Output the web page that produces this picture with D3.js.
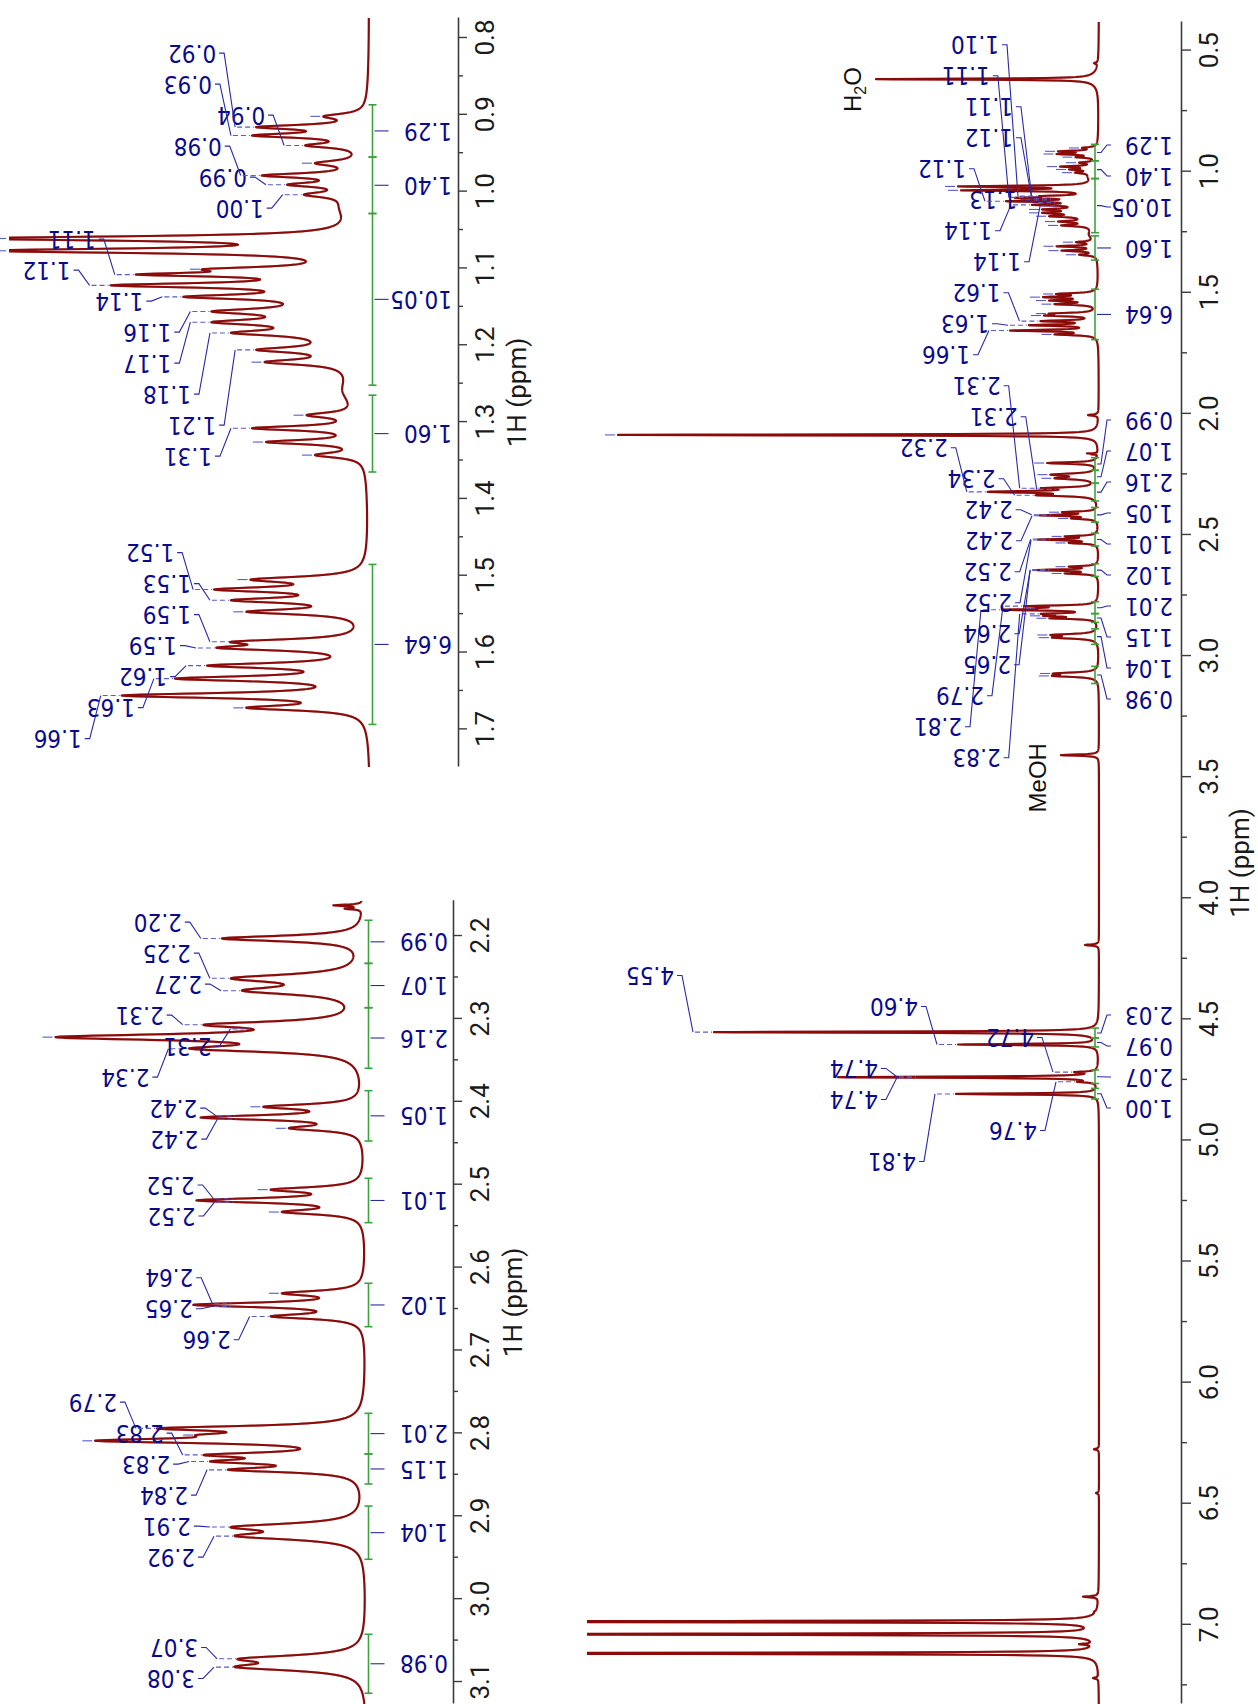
<!DOCTYPE html>
<html>
<head>
<meta charset="utf-8">
<title>1H NMR</title>
<script src="https://cdn.jsdelivr.net/npm/d3@7/dist/d3.min.js"></script>
<style>
  html, body { margin: 0; padding: 0; background: #ffffff; }
  svg { display: block; }
</style>
</head>
<body>
<svg id="nmr" width="1258" height="1704"></svg>
<script>
// ---------- resonances: [shift (ppm), peak height, line width FWHM (ppm)] ----------
const waterLines = [
  [0.552, 5, 0.006], [0.618, 223, 0.005]
];
const methylLines = [
  [0.902, 17, 0.008], [0.916, 41, 0.007], [0.927, 42.5, 0.007], [0.940, 23.5, 0.007],
  [0.963, 20, 0.008], [0.979, 39, 0.007], [0.991, 30, 0.007], [1.004, 24, 0.008],
  [1.061, 141, 0.007], [1.077, 138, 0.007], [1.101, 60, 0.007], [1.108, 84, 0.006],
  [1.122, 93, 0.007], [1.137, 67, 0.007], [1.156, 57, 0.008], [1.170, 57, 0.008],
  [1.184, 50, 0.008], [1.206, 41, 0.008], [1.222, 38, 0.008],
  [1.291, 23, 0.008], [1.308, 42.5, 0.007], [1.326, 37.5, 0.007], [1.343, 20, 0.008]
];
const methyleneLines = [
  [1.505, 43, 0.009], [1.518, 56, 0.008], [1.532, 50, 0.008], [1.547, 44.5, 0.008],
  [1.586, 50, 0.008], [1.594, 55, 0.008], [1.617, 58.5, 0.008], [1.634, 70, 0.008],
  [1.656, 89, 0.008], [1.672, 44.5, 0.008]
];
const singletLines = [
  [2.005, 11, 0.006], [2.087, 481, 0.005], [2.163, 12, 0.002], [2.167, 8, 0.002],
  [3.409, 38, 0.006], [4.193, 14, 0.006]
];
const allylicLines = [
  [2.203, 51.8, 0.008], [2.251, 48.6, 0.011], [2.266, 44.6, 0.011],
  [2.307, 58.3, 0.009], [2.322, 111.2, 0.009], [2.336, 63.4, 0.009],
  [2.406, 37, 0.007], [2.419, 59.4, 0.007], [2.432, 27.9, 0.007],
  [2.506, 34.4, 0.007], [2.519, 60.9, 0.007], [2.533, 30.4, 0.007],
  [2.631, 30.4, 0.007], [2.645, 62, 0.007], [2.659, 34.4, 0.007],
  [2.794, 75, 0.007], [2.802, 61, 0.007], [2.809, 97, 0.007],
  [2.826, 58.3, 0.007], [2.834, 56, 0.007], [2.844, 49.6, 0.007],
  [2.913, 48.6, 0.010], [2.924, 47.1, 0.010],
  [3.072, 46, 0.010], [3.082, 47.1, 0.010]
];
const oxyLines = [
  [4.553, 385, 0.006], [4.604, 141, 0.006], [4.718, 25, 0.006],
  [4.739, 261, 0.006], [4.758, 22, 0.006], [4.808, 143, 0.006]
];
const aromaticLines = [
  [6.275, 5, 0.006], [6.456, 3, 0.006], [6.884, 16, 0.006], [6.946, 5, 0.006],
  [6.987, 800, 0.005], [7.039, 800, 0.005], [7.080, 20, 0.006], [7.118, 800, 0.005],
  [7.220, 6, 0.006]
];
// broad underlying envelopes: [centre ppm, amplitude, FWHM ppm]
const broadBands = [
  [0.618, 8, 0.05], [1.020, 6, 0.04], [1.160, 18, 0.10], [1.260, 5, 0.04]
];

// ---------- peak picks (labelled shifts) ----------
const mainPicks = [1.101, 1.106, 1.112, 1.117, 1.122, 1.128, 1.137, 1.142, 1.617, 1.634, 1.656,
  2.307, 2.312, 2.322, 2.336, 2.417, 2.421, 2.517, 2.521, 2.643, 2.647, 2.794, 2.809, 2.826,
  4.553, 4.604, 4.718, 4.737, 4.741, 4.758, 4.808];
const zoomAPicks = [0.916, 0.927, 0.940, 0.979, 0.991, 1.004, 1.108, 1.122, 1.137, 1.156, 1.170,
  1.184, 1.206, 1.308, 1.518, 1.532, 1.586, 1.594, 1.617, 1.634, 1.656];
const zoomBPicks = [2.203, 2.251, 2.266, 2.307, 2.312, 2.336, 2.417, 2.421, 2.517, 2.521, 2.643,
  2.647, 2.659, 2.794, 2.826, 2.834, 2.844, 2.913, 2.924, 3.072, 3.082];

// ---------- integrals: [from ppm, to ppm, value] ----------
const integralsLow = [
  [0.887, 0.955, 1.29], [0.955, 1.0285, 1.40], [1.0285, 1.252, 10.05],
  [1.265, 1.365, 1.60], [1.4853, 1.6936, 6.64]
];
const integralsMid = [
  [2.181, 2.233, 0.99], [2.233, 2.2865, 1.07], [2.2865, 2.3596, 2.16],
  [2.3866, 2.4473, 1.05], [2.4923, 2.5458, 1.01], [2.6189, 2.6713, 1.02],
  [2.7758, 2.8248, 2.01], [2.8248, 2.8611, 1.15], [2.8877, 2.9519, 1.04],
  [3.0424, 3.1135, 0.98]
];
const integralsHigh = [
  [4.536, 4.577, 2.03], [4.577, 4.614, 0.97], [4.709, 4.765, 2.07], [4.785, 4.829, 1.00]
];

// ---------- solvent annotations ----------
const solventTags = [["H2O", 0.618], ["MeOH", 3.409]];

// ---------- axis ticks ----------
const mainTicks = [0.5, 1.0, 1.5, 2.0, 2.5, 3.0, 3.5, 4.0, 4.5, 5.0, 5.5, 6.0, 6.5, 7.0];
const mainMinor = [0.75, 1.25, 1.75, 2.25, 2.75, 3.25, 3.75, 4.25, 4.75, 5.25, 5.75, 6.25, 6.75, 7.25];
const zoomATicks = [0.8, 0.9, 1.0, 1.1, 1.2, 1.3, 1.4, 1.5, 1.6, 1.7];
const zoomAMinor = [0.85, 0.95, 1.05, 1.15, 1.25, 1.35, 1.45, 1.55, 1.65];
const zoomBTicks = [2.2, 2.3, 2.4, 2.5, 2.6, 2.7, 2.8, 2.9, 3.0, 3.1];
const zoomBMinor = [2.25, 2.35, 2.45, 2.55, 2.65, 2.75, 2.85, 2.95, 3.05];

// ---------- line-shape model ----------
const lines = [].concat(waterLines, methylLines, methyleneLines, singletLines,
  allylicLines, oxyLines, aromaticLines);
const lor = (x, c, w) => { const d = 2 * (x - c) / w; return 1 / (1 + d * d); };
const bandAt = x => broadBands.reduce((s, b) => s + b[1] * lor(x, b[0], b[2]), 0);
// amplitudes chosen so each line top reaches its listed height despite overlap
const amp = lines.map(l => l[1]);
for (let it = 0; it < 160; it++) {
  lines.forEach((l, i) => {
    let rest = bandAt(l[0]);
    lines.forEach((m, j) => {
      if (j !== i && Math.abs(m[0] - l[0]) < 0.6) rest += amp[j] * lor(l[0], m[0], m[2]);
    });
    amp[i] = Math.max(0, l[1] - rest);
  });
}
const intensity = x => {
  let s = bandAt(x);
  for (let i = 0; i < lines.length; i++) s += amp[i] * lor(x, lines[i][0], lines[i][2]);
  return s;
};

// ---------- layout helpers ----------
function spread(targets, gap, lo, hi) {
  let blocks = targets.map(t => ({ n: 1, sum: t }));
  const first = b => b.sum / b.n - (b.n - 1) * gap / 2;
  const last = b => b.sum / b.n + (b.n - 1) * gap / 2;
  let merged = true;
  while (merged) {
    merged = false;
    for (let k = 0; k + 1 < blocks.length; k++) {
      if (first(blocks[k + 1]) - last(blocks[k]) < gap) {
        blocks[k] = { n: blocks[k].n + blocks[k + 1].n, sum: blocks[k].sum + blocks[k + 1].sum };
        blocks.splice(k + 1, 1);
        merged = true;
        break;
      }
    }
  }
  const out = [];
  blocks.forEach(b => {
    let f = first(b);
    const l = last(b);
    if (f < lo) f = lo;
    if (l > hi) f -= (l - hi);
    for (let i = 0; i < b.n; i++) out.push(f + i * gap);
  });
  return out;
}

const SPEC = "#8b0a0a", NAVY = "#0a0a8c", LEAD = "#2a2aa8", DASH = "#5a5ac8", GREEN = "#3da23d", AXIS = "#3c3c3c";
const AXIS_FONT = '"Liberation Sans Narrow", "Roboto", "Open Sans", sans-serif';
const LABEL_FONT = '"DejaVu Sans Condensed", "DejaVu Sans", sans-serif';

const panels = [
  { ppm: [7.327, 0.382], u: [0, 1682], base: 1099, top: 587, gain: 1,
    axisV: 1181, tick: 10, minorLen: 6, titleV: 1249,
    major: mainTicks, minor: mainMinor, picks: mainPicks,
    integrals: integralsLow.concat(integralsMid, integralsHigh),
    intV: 1095, intLabelV: 1173, solvents: true, markRange: [0.88, 3.1] },
  { ppm: [1.749, 0.774], u: [937, 1686], base: 371, top: 9, gain: 2.8,
    axisV: 458, tick: 9, minorLen: 5, titleV: 526,
    major: zoomATicks, minor: zoomAMinor, picks: zoomAPicks,
    integrals: integralsLow, intV: 372.5, intLabelV: 452, solvents: false, markRange: [0.88, 1.75] },
  { ppm: [3.1265, 2.1574], u: [0, 803.3], base: 367, top: 9, gain: 2.8,
    axisV: 453, tick: 9, minorLen: 5, titleV: 522,
    major: zoomBTicks, minor: zoomBMinor, picks: zoomBPicks,
    integrals: integralsMid, intV: 368.5, intLabelV: 448, solvents: false, markRange: [2.18, 3.12] }
];

const svg = d3.select("#nmr");
const defs = svg.append("defs");
// the spectra are laid out as ordinary NMR plots and then turned a quarter turn
const root = svg.append("g").attr("transform", "translate(0,1704) rotate(-90)");

panels.forEach((p, idx) => {
  const x = d3.scaleLinear().domain(p.ppm).range(p.u);
  const y = d3.scaleLinear().domain([0, 1]).range([p.base, p.base - p.gain]);
  const uLo = Math.min(...p.u), uHi = Math.max(...p.u);
  const pLo = Math.min(...p.ppm), pHi = Math.max(...p.ppm);
  const g = root.append("g");

  defs.append("clipPath").attr("id", "clip" + idx)
    .append("rect").attr("x", uLo).attr("y", p.top)
    .attr("width", uHi - uLo).attr("height", p.base + 20 - p.top);

  // axis
  const ax = g.append("g").attr("transform", `translate(0,${p.axisV})`)
    .call(d3.axisBottom(x).tickValues(p.major).tickFormat(d3.format(".1f"))
      .tickSize(p.tick).tickSizeOuter(0).tickPadding(9));
  g.append("g").attr("transform", `translate(0,${p.axisV})`)
    .call(d3.axisBottom(x).tickValues(p.minor).tickFormat("").tickSize(p.minorLen).tickSizeOuter(0))
    .select(".domain").remove();
  g.selectAll(".domain").attr("stroke", AXIS).attr("stroke-width", 1.6);
  g.selectAll(".tick line").attr("stroke", AXIS).attr("stroke-width", 1.4);
  ax.selectAll(".tick text").attr("font-family", AXIS_FONT).attr("font-size", 26).attr("fill", "#1a1a1a");
  g.append("text").attr("x", (uLo + uHi) / 2).attr("y", p.titleV)
    .attr("text-anchor", "middle").attr("font-family", AXIS_FONT).attr("font-size", 26)
    .attr("fill", "#1a1a1a").text("1H (ppm)");

  // spectrum trace
  const n = Math.ceil((uHi - uLo) * 3);
  const xs = d3.range(n + 1).map(i => pLo + (pHi - pLo) * i / n);
  lines.forEach(l => { if (l[0] > pLo && l[0] < pHi) xs.push(l[0]); });
  xs.sort((a, b) => a - b);
  const pts = xs.map(v => [v, intensity(v)]);
  g.append("path").attr("clip-path", `url(#clip${idx})`)
    .attr("d", d3.line().x(d => x(d[0])).y(d => y(d[1]))(pts))
    .attr("fill", "none").attr("stroke", SPEC).attr("stroke-width", 2.2)
    .attr("stroke-linejoin", "round");

  // integrals
  const ints = p.integrals.map(r => ({ a: r[0], b: r[1], val: r[2], um: x((r[0] + r[1]) / 2) }))
    .sort((s, t) => s.um - t.um);
  const iPos = spread(ints.map(d => d.um), 31, uLo + 12, uHi - 12);
  ints.forEach((d, i) => {
    const ua = x(d.a), ub = x(d.b), gv = p.intV;
    g.append("line").attr("x1", ua).attr("x2", ub).attr("y1", gv).attr("y2", gv)
      .attr("stroke", GREEN).attr("stroke-width", 1.6);
    [ua, ub].forEach(uc => g.append("line").attr("x1", uc).attr("x2", uc)
      .attr("y1", gv - 4).attr("y2", gv + 4).attr("stroke", GREEN).attr("stroke-width", 1.6));
    const lu = iPos[i];
    g.append("path").attr("d", `M${d.um},${gv + 2}L${d.um},${gv + 6}L${lu},${gv + 12}L${lu},${gv + 16}`)
      .attr("fill", "none").attr("stroke", LEAD).attr("stroke-width", 1.1);
    g.append("text").attr("transform", `translate(${lu},${p.intLabelV}) rotate(-90)`)
      .attr("dy", "0.35em").attr("text-anchor", "start")
      .attr("font-family", LABEL_FONT).attr("font-stretch", "condensed").attr("font-size", 24)
      .attr("fill", NAVY).text(d.val.toFixed(2));
  });

  // unlabelled pick marks
  lines.forEach(l => {
    if (l[0] < p.markRange[0] || l[0] > p.markRange[1] || l[0] < pLo || l[0] > pHi) return;
    if (l[1] < 15) return;
    if (p.picks.some(q => Math.abs(q - l[0]) < 0.0035)) return;
    const tv = Math.max(p.top, y(intensity(l[0])));
    const uu = x(l[0]);
    g.append("line").attr("x1", uu).attr("x2", uu).attr("y1", tv - 13).attr("y2", tv - 3)
      .attr("stroke", DASH).attr("stroke-width", 1.1);
  });

  // peak labels
  const items = p.picks.map(q => ({ ppm: q, u: x(q), tip: Math.max(p.top, y(intensity(q))) }))
    .sort((s, t) => s.u - t.u);
  const lPos = spread(items.map(d => d.u), 31, uLo + 12, uHi - 12);
  items.forEach((d, i) => {
    const lu = lPos[i], vs = d.tip - 40;
    g.append("path").attr("d", `M${lu},${vs + 3}L${lu},${vs + 8}L${d.u},${vs + 19}`)
      .attr("fill", "none").attr("stroke", LEAD).attr("stroke-width", 1.1);
    g.append("line").attr("x1", d.u).attr("x2", d.u).attr("y1", vs + 21).attr("y2", d.tip - 2)
      .attr("stroke", DASH).attr("stroke-width", 1.1).attr("stroke-dasharray", "5,3");
    g.append("text").attr("transform", `translate(${lu},${vs}) rotate(-90)`)
      .attr("dy", "0.35em").attr("text-anchor", "start")
      .attr("font-family", LABEL_FONT).attr("font-stretch", "condensed").attr("font-size", 24)
      .attr("fill", NAVY).text(d.ppm.toFixed(2));
  });

  // solvent annotations
  if (p.solvents) {
    solventTags.forEach(([name, q]) => {
      const tv = Math.max(p.top, y(intensity(q)));
      const t = g.append("text").attr("x", x(q) + 12).attr("y", tv - 10)
        .attr("text-anchor", "end").attr("font-family", '"Liberation Sans", Arial, sans-serif')
        .attr("font-size", 24).attr("fill", "#111");
      name.split(/(\d)/).filter(s => s.length).forEach(part => {
        if (/\d/.test(part)) t.append("tspan").attr("font-size", 16).attr("dy", 5).text(part);
        else t.append("tspan").attr("dy", t.selectAll("tspan").size() ? -5 : 0).text(part);
      });
    });
  }
});
</script>
</body>
</html>
